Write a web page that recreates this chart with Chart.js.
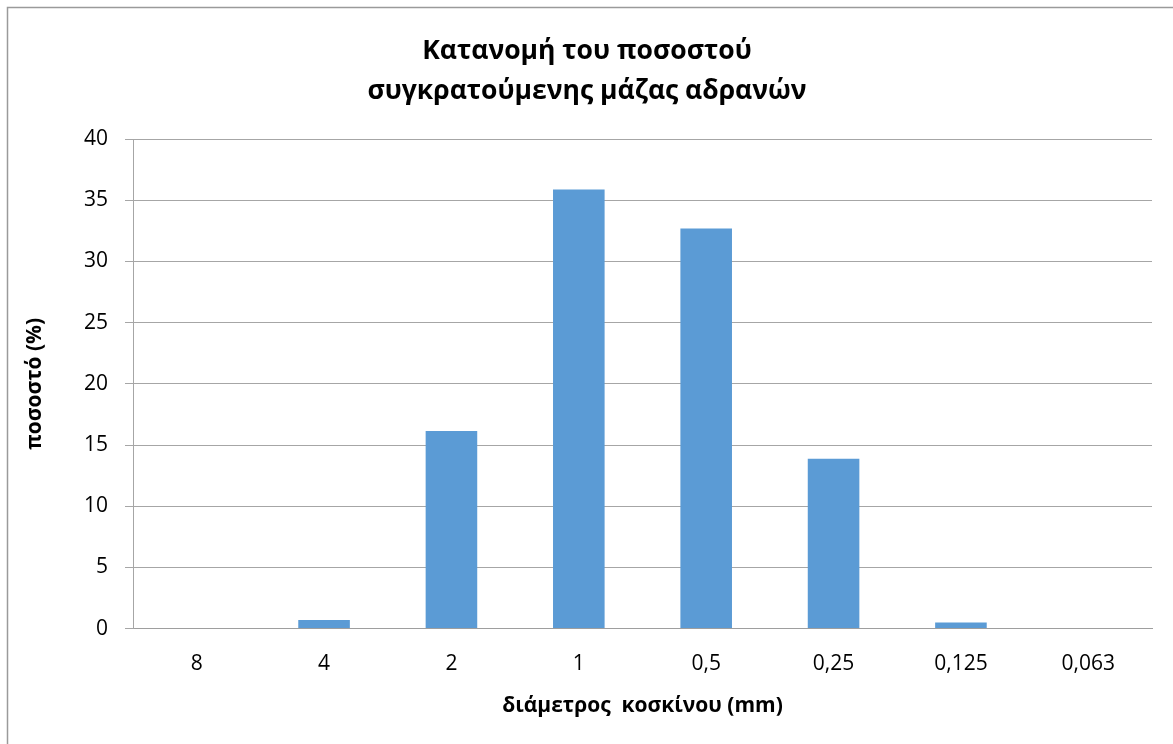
<!DOCTYPE html>
<html>
<head>
<meta charset="utf-8">
<script src="https://cdn.jsdelivr.net/npm/chart.js@4"></script>
<style>
html,body{margin:0;padding:0;background:#fff;}
#wrap{position:relative;width:1173px;height:744px;}
canvas{position:absolute;left:0;top:0;}
</style>
</head>
<body>
<div id="wrap"><canvas id="c" width="1173" height="744"></canvas></div>
<script>
const categories = ["8","4","2","1","0,5","0,25","0,125","0,063"];
const percentages = [0, 0.7, 16.15, 35.87, 32.7, 13.88, 0.5, 0];
const yTicks = [0,5,10,15,20,25,30,35,40];
const titleLines = ["Κατανομή του ποσοστού","συγκρατούμενης μάζας αδρανών"];
const xTitle = "διάμετρος  κοσκίνου (mm)";
const yTitle = "ποσοστό (%)";

const FONT = "'Open Sans', 'Noto Sans', sans-serif";

const borderPlugin = {
  id: 'outerBorder',
  beforeDraw(chart){
    const ctx = chart.ctx;
    ctx.save();
    ctx.fillStyle = '#fff';
    ctx.fillRect(0,0,chart.width,chart.height);
    ctx.strokeStyle = '#9a9a9a';
    ctx.lineWidth = 1.5;
    ctx.beginPath();
    ctx.moveTo(7.5, chart.height);
    ctx.lineTo(7.5, 7.5);
    ctx.lineTo(chart.width, 7.5);
    ctx.stroke();
    ctx.restore();
  }
};

new Chart(document.getElementById('c'), {
  type: 'bar',
  data: {
    labels: categories,
    datasets: [{
      data: percentages,
      backgroundColor: '#5B9BD5',
      borderWidth: 0,
      barPercentage: 0.405,
      categoryPercentage: 1.0
    }]
  },
  options: {
    responsive: false,
    animation: false,
    devicePixelRatio: 1,
    layout: { padding: { left: 22, right: 21, top: 0, bottom: 25 } },
    plugins: {
      legend: { display: false },
      tooltip: { enabled: false },
      title: {
        display: true,
        text: titleLines,
        color: '#000',
        font: { family: FONT, size: 26.5, weight: 'bold', lineHeight: 1.51 },
        padding: { top: 31, bottom: 28 }
      }
    },
    scales: {
      x: {
        grid: { display: false, drawTicks: false },
        border: { display: true, color: '#9e9e9e', width: 1 },
        ticks: { color: '#000', font: { family: FONT, size: 21 }, padding: 23 },
        title: { display: true, text: xTitle, color: '#000', font: { family: FONT, size: 21, weight: 'bold' }, padding: { top: -6, bottom: 0 } }
      },
      y: {
        min: 0, max: 40,
        afterBuildTicks(scale){ scale.ticks = yTicks.map(v => ({ value: v })); },
        afterFit(scale){ scale.width = 111; },
        grid: { color: '#a6a6a6', lineWidth: 1, tickLength: 8 },
        border: { display: true, color: '#a6a6a6', width: 1 },
        ticks: { color: '#000', font: { family: FONT, size: 21 }, padding: 17 },
        title: { display: true, text: yTitle, color: '#000', font: { family: FONT, size: 21, weight: 'bold' }, padding: { top: 0, bottom: 6 } }
      }
    }
  },
  plugins: [borderPlugin]
});
</script>
</body>
</html>
